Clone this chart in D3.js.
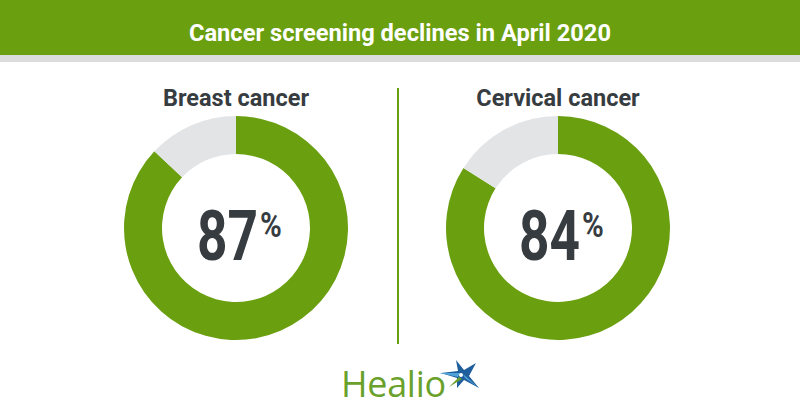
<!DOCTYPE html>
<html><head><meta charset="utf-8">
<script src="https://cdn.jsdelivr.net/npm/d3@7"></script>
<style>body{margin:0;background:#fff}svg{display:block}</style>
</head><body>
<svg id="c" width="800" height="420"></svg>
<script>
const title = "Cancer screening declines in April 2020";
const categories = ["Breast cancer", "Cervical cancer"];
const values = [87, 84];
const brand = "Healio";

const green = "#6a9f10", grey = "#e3e4e6", dark = "#363c3f";
const svg = d3.select("#c");

// header
svg.append("rect").attr("x",0).attr("y",0).attr("width",800).attr("height",55).attr("fill",green);
svg.append("rect").attr("x",0).attr("y",55).attr("width",800).attr("height",7).attr("fill","#dcdcdc");
svg.append("text").attr("x",400).attr("y",41).attr("text-anchor","middle")
  .attr("font-family","Roboto, 'Liberation Sans'").attr("font-weight",700).attr("font-size",24)
  .attr("fill","#fff").attr("textLength",422).attr("lengthAdjust","spacingAndGlyphs").text(title);

// divider
svg.append("line").attr("x1",398).attr("x2",398).attr("y1",88).attr("y2",344)
  .attr("stroke",green).attr("stroke-width",2);

const xs = d3.scalePoint().domain(categories).range([236,558]);
const pie = d3.pie().sort(null).value(d=>d);
const arc = d3.arc().innerRadius(74).outerRadius(112);

categories.forEach((cat,i)=>{
  const cx = xs(cat), cy = 228;
  const g = svg.append("g").attr("transform",`translate(${cx},${cy})`);
  g.selectAll("path").data(pie([values[i], 100-values[i]])).join("path")
    .attr("d",arc).attr("fill",(d,j)=>j===0?green:grey);
  svg.append("text").attr("x",cx).attr("y",106).attr("text-anchor","middle")
    .attr("font-family","Roboto, 'Liberation Sans'").attr("font-weight",700).attr("font-size",23.5)
    .attr("fill",dark).text(cat);
  g.append("g").attr("transform","translate(22,32) scale(0.76,1)")
    .append("text").attr("text-anchor","end")
    .attr("font-family","Roboto, 'Liberation Sans'").attr("font-weight",700).attr("font-size",70)
    .attr("fill",dark).text(values[i]);
  g.append("g").attr("transform","translate(24,9) scale(0.82,1)")
    .append("text").attr("text-anchor","start")
    .attr("font-family","Roboto, 'Liberation Sans'").attr("font-weight",700).attr("font-size",36)
    .attr("fill",dark).text("%");
});

// logo
svg.append("text").attr("x",341).attr("y",397).attr("font-family","'Open Sans', Roboto")
  .attr("font-weight",500).attr("font-size",36).attr("fill","#6aa12b").attr("letter-spacing",-0.3).text(brand);
const star = svg.append("g").attr("transform","translate(461,375)");
star.append("path").attr("d","M-5,-15 L3,-5 L15,-12 L8,1 L18,13 L3,5 L-4,13 L-4,3 L-20,-2 L-3,-4 Z")
  .attr("fill","#1f5e9c");
star.append("path").attr("d","M-1,-2 L-22,-2 L-3,2 Z").attr("fill","#4fa3d9");
star.append("path").attr("d","M-2,2 L-12,12 L1,4 Z").attr("fill","#6aa12b");
star.append("path").attr("d","M2,-1 L18,13 L4,3 Z").attr("fill","#4fa3d9");
star.append("circle").attr("r",2).attr("cx",0).attr("cy",0).attr("fill","#fff");
</script>
</body></html>
